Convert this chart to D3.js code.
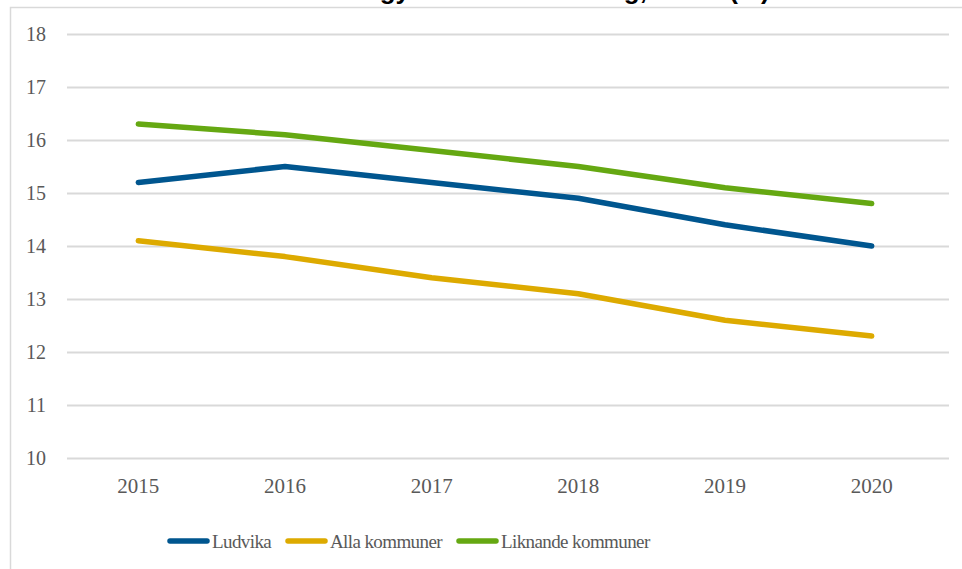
<!DOCTYPE html>
<html>
<head>
<meta charset="utf-8">
<script src="https://d3js.org/d3.v7.min.js"></script>
<style>
	body { margin: 0; background: #fff; }
	svg { display: block; }
</style>
</head>
<body>
<div id="chart"></div>
<script>

// data
var years = ["2015", "2016", "2017", "2018", "2019", "2020"];
var ludvika = [15.2, 15.5, 15.2, 14.9, 14.4, 14.0];
var allaKommuner = [14.1, 13.8, 13.4, 13.1, 12.6, 12.3];
var liknandeKommuner = [16.3, 16.1, 15.8, 15.5, 15.1, 14.8];
var yTicks = [10, 11, 12, 13, 14, 15, 16, 17, 18];
var seriesNames = ["Ludvika", "Alla kommuner", "Liknande kommuner"];
var seriesColors = ["#00568f", "#ddaa00", "#65a812"];

var series = [ludvika, allaKommuner, liknandeKommuner].map(function (vals, i) {
	return { name: seriesNames[i], color: seriesColors[i], values: vals };
});

var width = 962, height = 569;
var plot = { left: 65, right: 945, top: 34, bottom: 458 };
var serif = "'Liberation Serif', 'Times New Roman', serif";

var svg = d3.select("#chart").append("svg")
	.attr("width", width)
	.attr("height", height);

// chart frame (runs off the right/bottom edge)
svg.append("rect")
	.attr("x", 10.5).attr("y", 7.5)
	.attr("width", 980).attr("height", 600)
	.attr("fill", "#fff")
	.attr("stroke", "#d9d9d9")
	.attr("stroke-width", 1.5);

// title, mostly above the visible area (as in the reference)
svg.append("text")
	.attr("x", 470)
	.attr("y", -1)
	.attr("text-anchor", "middle")
	.style("font-family", "'Liberation Sans', Arial, sans-serif")
	.style("font-weight", "bold")
	.style("font-size", "26px")
	.attr("fill", "#000")
	.text("Invånare med förgymnasial utbildning, andel (%)");

var x = d3.scaleBand().domain(years).range([plot.left, plot.right]);
var y = d3.scaleLinear().domain([10, 18]).range([plot.bottom, plot.top]);

// gridlines + y labels
var yAxis = d3.axisLeft(y)
	.tickValues(yTicks)
	.tickSize(-(plot.right - plot.left + 2))
	.tickPadding(21)
	.tickFormat(d3.format("d"));

var gy = svg.append("g")
	.attr("transform", "translate(" + (plot.left + 2) + ",0)")
	.call(yAxis)
	.attr("font-family", null);
gy.select(".domain").remove();
gy.selectAll(".tick line")
	.attr("stroke", "#d9d9d9")
	.attr("stroke-width", 2);
gy.selectAll(".tick text")
	.style("font-family", serif)
	.style("font-size", "20px")
	.attr("fill", "#595959");

// x labels
var xAxis = d3.axisBottom(x).tickSize(0).tickPadding(20);
var gx = svg.append("g")
	.attr("transform", "translate(0," + plot.bottom + ")")
	.call(xAxis)
	.attr("font-family", null);
gx.select(".domain").remove();
gx.selectAll(".tick text")
	.style("font-family", serif)
	.style("font-size", "21px")
	.attr("fill", "#595959");

// lines
var line = d3.line()
	.x(function (d, i) { return x(years[i]) + x.bandwidth() / 2; })
	.y(function (d) { return y(d); });

svg.append("g").selectAll("path.serie")
	.data(series)
	.enter()
	.append("path")
	.classed("serie", true)
	.attr("d", function (d) { return line(d.values); })
	.attr("fill", "none")
	.attr("stroke", function (d) { return d.color; })
	.attr("stroke-width", 5.5)
	.attr("stroke-linecap", "round")
	.attr("stroke-linejoin", "round");

// legend
var legendX = [170, 288, 459];
var legend = svg.append("g").selectAll("g.legendItem")
	.data(series)
	.enter()
	.append("g")
	.classed("legendItem", true)
	.attr("transform", function (d, i) { return "translate(" + legendX[i] + ",541)"; });

legend.append("line")
	.attr("x1", 0).attr("x2", 37)
	.attr("stroke", function (d) { return d.color; })
	.attr("stroke-width", 5.5)
	.attr("stroke-linecap", "round");

legend.append("text")
	.attr("x", 42)
	.attr("y", 7)
	.style("font-family", serif)
	.style("font-size", "19px")
	.style("letter-spacing", "-0.6px")
	.attr("fill", "#595959")
	.text(function (d) { return d.name; });

</script>
</body>
</html>
